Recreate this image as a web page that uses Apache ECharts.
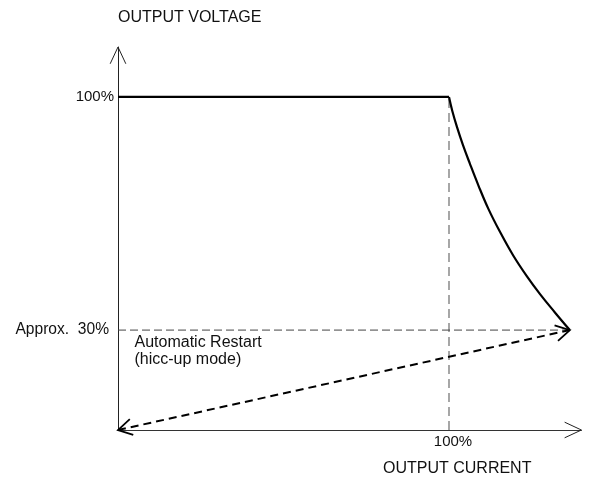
<!DOCTYPE html>
<html>
<head>
<meta charset="utf-8">
<script src="https://cdn.jsdelivr.net/npm/echarts@6/dist/echarts.min.js"></script>
<style>html,body{margin:0;padding:0;background:#fff}#c{width:592px;height:479px}</style>
</head>
<body>
<div id="c"></div>
<script>
// Data (percent of rated current / voltage)
const flatLine = [[0, 100], [100, 100]];
const foldbackCurve = [[100, 100], [101.0, 95.8], [102.4, 91.0], [104.2, 85.6], [106.3, 80.0], [108.9, 73.4], [111.9, 66.4], [115.4, 59.5], [119.4, 52.4], [123.5, 46.2], [127.5, 40.8], [132.0, 35.3], [136.5, 30]];
const restartLevel = [[0, 30], [136.5, 30]];
const ratedCurrentLine = [[100, 0], [100, 100]];
const hiccupPath = [[0, 0], [136.5, 30]];
// arrowheads: [tipX, tipY, fromX, fromY]
const arrowHeads = [[0, 115, 0, 0], [140, 0, 0, 0], [136.5, 30, 0, 0], [0, 0, 136.5, 30]];
const yTicks = [30, 100];
const yTickLabels = {30: 'Approx.  30%', 100: '100%'};
const xTicks = [100];
const xTickLabels = {100: '100%'};

const FONT = '"Liberation Sans", Arial, sans-serif';
const chart = echarts.init(document.getElementById('c'), null, {renderer: 'canvas'});
chart.setOption({
  animation: false,
  backgroundColor: '#fff',
  textStyle: {fontFamily: FONT},
  grid: {left: 118, top: 47, width: 463.4, height: 383},
  xAxis: {
    type: 'value', min: 0, max: 140,
    axisLine: {show: true, lineStyle: {color: '#333', width: 1}},
    axisTick: {show: false},
    splitLine: {show: false},
    axisLabel: {
      customValues: xTicks, formatter: v => '{a|' + (xTickLabels[v] || '') + '}',
      color: '#111', fontSize: 15, margin: 4, fontFamily: FONT,
      rich: {a: {fontSize: 15, color: '#111', padding: [0, 0, 0, 8], fontFamily: FONT}}
    }
  },
  yAxis: {
    type: 'value', min: 0, max: 115,
    name: 'OUTPUT VOLTAGE', nameLocation: 'end', nameGap: 21.5,
    nameTextStyle: {align: 'left', color: '#111', fontSize: 16, fontFamily: FONT},
    axisLine: {show: true, lineStyle: {color: '#222', width: 1}},
    axisTick: {show: false},
    splitLine: {show: false},
    axisLabel: {
      customValues: yTicks,
      formatter: v => v === 30 ? '{a|' + yTickLabels[v] + '}' : yTickLabels[v] || '',
      color: '#111', fontSize: 15, margin: 4, fontFamily: FONT,
      rich: {a: {fontSize: 15.6, color: '#111', padding: [0, 5, 0, 0], fontFamily: FONT}}
    }
  },
  graphic: [
    {type: 'text', left: 383, top: 461, style: {text: 'OUTPUT CURRENT', fill: '#111', font: '16px ' + FONT}},
    {type: 'text', left: 134.5, top: 334.5, style: {text: 'Automatic Restart\n(hicc-up mode)', fill: '#111', font: '16px ' + FONT, lineHeight: 17}}
  ],
  series: [
    {type: 'line', data: ratedCurrentLine, symbol: 'none', lineStyle: {color: '#777', width: 1.3, type: [9, 5]}, z: 2},
    {type: 'line', data: restartLevel, symbol: 'none', lineStyle: {color: '#444', width: 1, type: [8, 4]}, z: 2},
    {type: 'line', data: hiccupPath, symbol: 'none', lineStyle: {color: '#000', width: 2, type: [8, 5]}, z: 3},
    {type: 'line', data: flatLine, symbol: 'none', lineStyle: {color: '#000', width: 2.2}, z: 4},
    {type: 'line', data: foldbackCurve, symbol: 'none', smooth: 0.4, lineStyle: {color: '#000', width: 2.2, join: 'round'}, z: 4},
    {
      type: 'custom', z: 5, data: arrowHeads,
      renderItem: function (params, api) {
        const tip = api.coord([api.value(0), api.value(1)]);
        const from = api.coord([api.value(2), api.value(3)]);
        const ang = Math.atan2(from[1] - tip[1], from[0] - tip[0]);
        const idx = params.dataIndex;
        const len = idx < 2 ? 18.5 : 16;
        const half = idx < 2 ? 25 * Math.PI / 180 : 30 * Math.PI / 180;
        const p1 = [tip[0] + len * Math.cos(ang + half), tip[1] + len * Math.sin(ang + half)];
        const p2 = [tip[0] + len * Math.cos(ang - half), tip[1] + len * Math.sin(ang - half)];
        return {
          type: 'polyline',
          shape: {points: [p1, tip, p2]},
          style: {stroke: idx < 2 ? '#222' : '#000', lineWidth: idx < 2 ? 1 : 1.8, fill: null}
        };
      }
    }
  ]
});
</script>
</body>
</html>
